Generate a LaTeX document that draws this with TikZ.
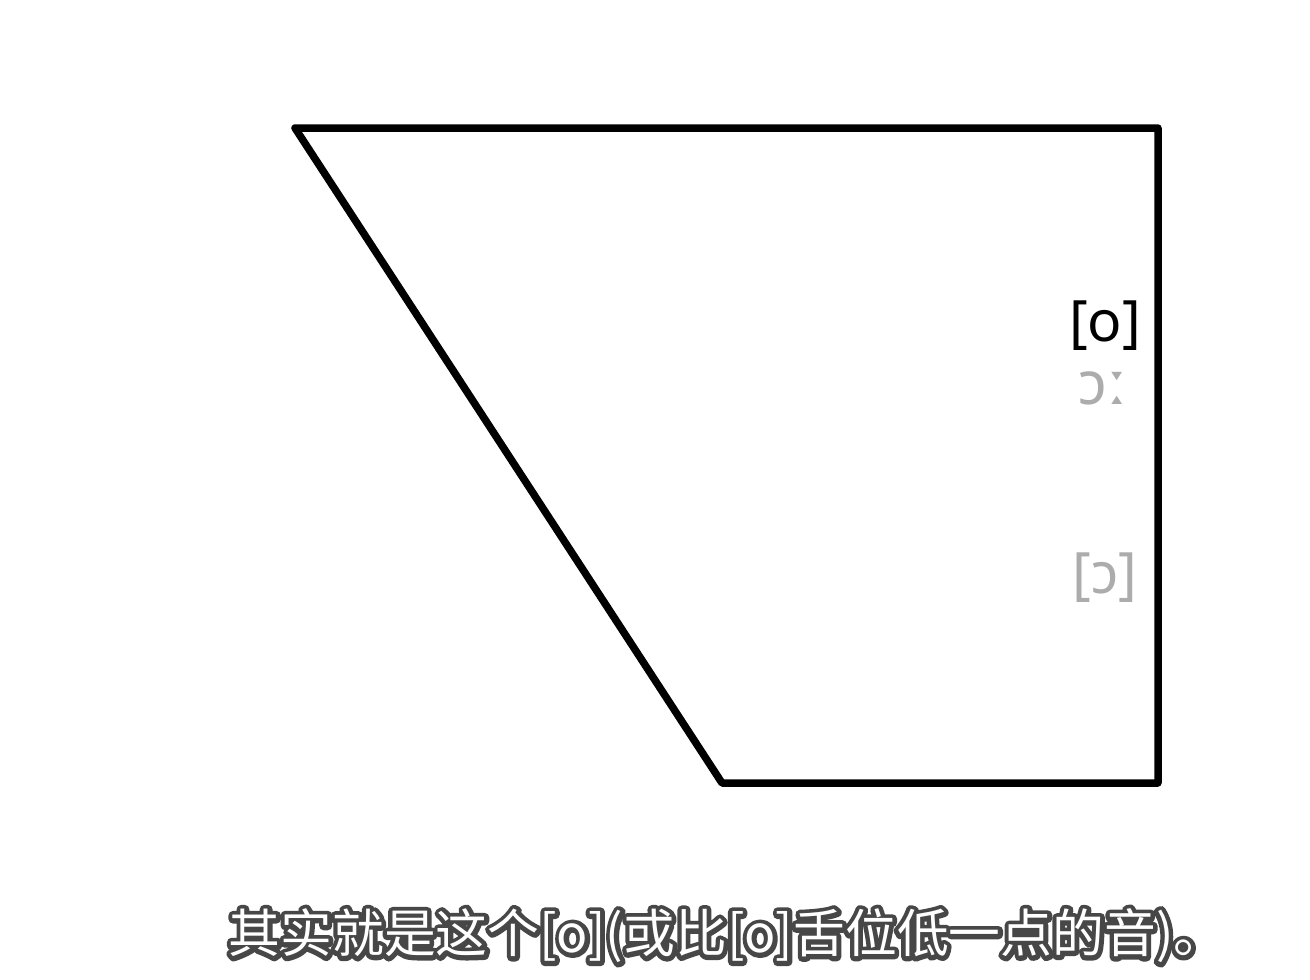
\documentclass[tikz,border=0pt]{standalone}
\usepackage{fontspec}
\newfontfamily\ipafont{Noto Sans}
\newfontfamily\cjk{Noto Sans CJK SC}
\tikzset{
  chart/.style={line width=7.5pt, line join=round, line cap=round},
  ipablack/.style={font=\ipafont\fontsize{57}{60}\selectfont, text=black, inner sep=0pt},
  ipagray/.style={font=\ipafont\fontsize{57}{60}\selectfont, text=gray!65, inner sep=0pt},
  subout/.style={font=\cjk\fontsize{51.8}{56}\selectfont, text=black!72, inner sep=0pt},
  subin/.style={font=\cjk\fontsize{51.8}{56}\selectfont, text=white, inner sep=0pt}
}
\newcommand{\subtxt}{其实就是这个[o](或比[o]舌位低一点的音)。}
\newcommand{\strokeon}{\special{pdf:literal direct 1 Tr 9 w 1 j 0.28 0.28 0.28 RG}}
\newcommand{\strokeoff}{\special{pdf:literal direct 0 Tr}}
\begin{document}
\begin{tikzpicture}[x=1pt,y=-1pt]
\useasboundingbox (0,0) rectangle (1310,980);
\fill[white] (0,0) rectangle (1310,980);
\coordinate (tl) at (295,128);
\coordinate (tr) at (1158,128);
\coordinate (br) at (1158,783);
\coordinate (bl) at (722,783);
\draw[chart] (tl) -- (tr) -- (br) -- (bl) -- cycle;
\node[ipablack] (o) at (1105,326) {[o]};
\node[ipagray, font=\ipafont\fontsize{60}{64}\selectfont] (oo) at (1103,388) {ɔː};
\node[ipagray] (oc) at (1105,578) {[ɔ]};
\node[subout] (subo) at (727,936) {\strokeon\subtxt\strokeoff};
\node[subin] (sub) at (727,936) {\subtxt};
\end{tikzpicture}
\end{document}
